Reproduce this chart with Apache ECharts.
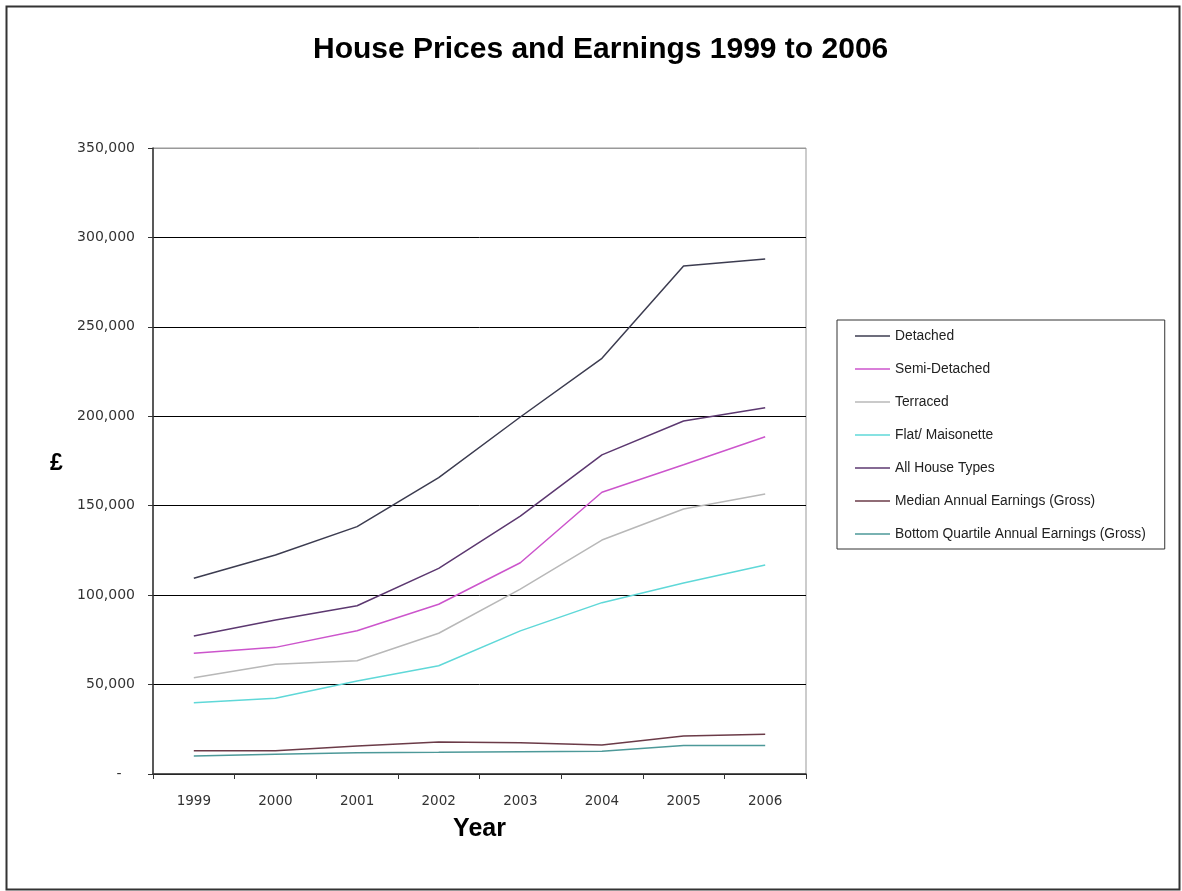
<!DOCTYPE html>
<html>
<head>
<meta charset="utf-8">
<script src="https://cdn.jsdelivr.net/npm/echarts@6/dist/echarts.min.js"></script>
<style>html,body{margin:0;padding:0;background:#fff;}#c{width:1182px;height:891px;}</style>
</head>
<body>
<div id="c"></div>
<script>
const years = ['1999','2000','2001','2002','2003','2004','2005','2006'];
const detached = [109400, 122400, 138300, 165700, 199600, 232400, 284000, 288000];
const semiDetached = [67500, 70800, 80100, 94900, 118100, 157500, 172900, 188600];
const terraced = [53800, 61300, 63300, 78700, 103400, 130800, 148200, 156500];
const flatMaisonette = [39900, 42300, 52000, 60500, 80000, 95800, 106800, 116900];
const allHouseTypes = [77200, 86100, 94100, 115000, 144200, 178400, 197400, 204800];
const medianEarnings = [13000, 13000, 15700, 17900, 17500, 16200, 21200, 22200];
const bottomQuartile = [10100, 11000, 11900, 12100, 12500, 12700, 16000, 16000];

const seriesDefs = [
  ['Detached', detached, '#3c3c50'],
  ['Semi-Detached', semiDetached, '#cc55cc'],
  ['Terraced', terraced, '#b8b8b8'],
  ['Flat/ Maisonette', flatMaisonette, '#5fd8d8'],
  ['All House Types', allHouseTypes, '#5c3870'],
  ['Median Annual Earnings (Gross)', medianEarnings, '#6b3b48'],
  ['Bottom Quartile Annual Earnings (Gross)', bottomQuartile, '#4d9999']
];

const chart = echarts.init(document.getElementById('c'), null, {renderer: 'canvas'});
chart.setOption({
  backgroundColor: '#fff',
  animation: false,
  title: {
    text: 'House Prices and Earnings 1999 to 2006',
    left: 308, top: 30,
    textStyle: {fontFamily: 'Liberation Sans, Arial, sans-serif', fontSize: 30, fontWeight: 'bold', color: '#000'}
  },
  graphic: [
    {type: 'rect', left: 4, top: 4, shape: {width: 1173, height: 883}, style: {fill: 'none', stroke: '#333', lineWidth: 2}, silent: true},
    {type: 'text', left: 50, top: 452, style: {text: '£', fontSize: 23, fontFamily: 'Liberation Sans, Arial, sans-serif', fontWeight: 'bold', fill: '#000'}}
  ],
  legend: {
    orient: 'vertical',
    left: 837, top: 320,
    padding: [9, 19, 8, 18],
    itemWidth: 35, itemHeight: 14, itemGap: 19,
    icon: 'path://M0,0L35,0L35,1.5L0,1.5Z',
    borderColor: '#333', borderWidth: 1,
    textStyle: {fontFamily: 'Liberation Sans, Arial, sans-serif', fontSize: 13.8, color: '#222'},
    data: seriesDefs.map(d => d[0])
  },
  grid: {
    left: 153, top: 148, right: 376, bottom: 117,
    show: true, borderColor: '#999', borderWidth: 1
  },
  xAxis: {
    type: 'category',
    data: years,
    boundaryGap: true,
    axisLine: {lineStyle: {color: '#333', width: 1.5}},
    axisTick: {show: true, length: 5, lineStyle: {color: '#333'}},
    axisLabel: {margin: 20, fontFamily: 'DejaVu Sans, sans-serif', fontSize: 13.5, color: '#333'},
    name: 'Year',
    nameLocation: 'middle',
    nameGap: 43,
    nameTextStyle: {fontFamily: 'Liberation Sans, Arial, sans-serif', fontSize: 25, fontWeight: 'bold', color: '#000'}
  },
  yAxis: {
    type: 'value',
    min: 0, max: 350000, interval: 50000,
    axisLine: {show: true, lineStyle: {color: '#333', width: 1.5}},
    axisTick: {show: true, length: 5, lineStyle: {color: '#333'}},
    axisLabel: {
      margin: 18,
      fontFamily: 'DejaVu Sans, sans-serif', fontSize: 14, color: '#333',
      formatter: v => v === 0 ? '-   ' : v.toLocaleString('en-GB')
    },
    splitLine: {show: true, lineStyle: {color: ['#000','#000','#000','#000','#000','#000','#000','#999'], width: 1}}
  },
  series: seriesDefs.map(d => ({
    name: d[0],
    type: 'line',
    data: d[1],
    symbol: 'none',
    color: d[2],
    lineStyle: {color: d[2], width: 1.5}
  }))
});
</script>
</body>
</html>
